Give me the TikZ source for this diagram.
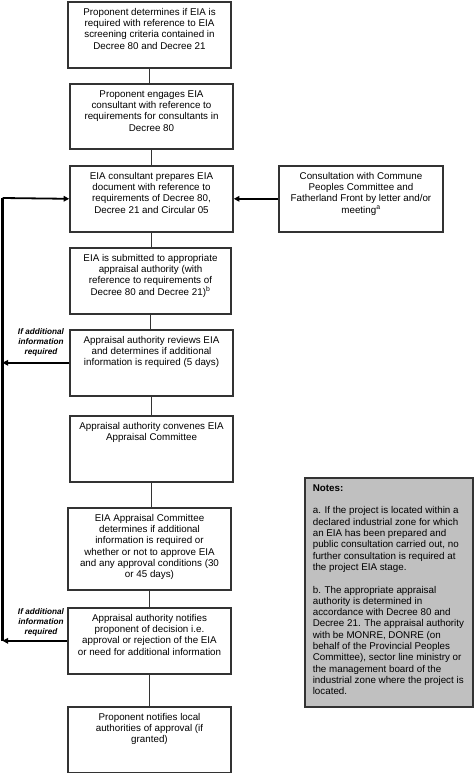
\documentclass[tikz,border=0pt]{standalone}
\usepackage{fontspec}
\setmainfont{Liberation Sans}
\usetikzlibrary{arrows.meta}
\definecolor{bordergray}{HTML}{333333}
\definecolor{notesfill}{HTML}{C0C0C0}
\newcommand{\bxt}[3]{\parbox[c][#2bp][t]{#1bp}{\centering\fontsize{9.8bp}{11.3bp}\selectfont\rule{0pt}{13.5bp}#3\par}}
\tikzset{
  stepbox/.style={draw=bordergray, line width=1.6bp, inner sep=0pt, anchor=north, fill=white},
  link/.style={draw=bordergray, line width=1.6bp},
  arr/.style={draw=black, line width=1.8bp, -{Triangle[length=5.5bp,width=5.5bp]}},
  loopline/.style={draw=black, line width=2bp},
  lbl/.style={font=\fontsize{8.2bp}{10bp}\selectfont\bfseries\itshape, align=center, inner sep=0pt},
}
\begin{document}
\begin{tikzpicture}[x=1bp,y=-1bp]
\useasboundingbox (0,0) rectangle (474,773);
% main column
\node[stepbox] (b1) at (149.5,1) {\bxt{163}{66}{Proponent determines if EIA is\\ required with reference to EIA\\ screening criteria contained in\\ Decree 80 and Decree 21}};
\node[stepbox] (b2) at (151.5,83) {\bxt{163}{65}{Proponent engages EIA\\ consultant with reference to\\ requirements for consultants in\\ Decree 80}};
\node[stepbox] (b3) at (151.5,165) {\bxt{163}{66}{EIA consultant prepares EIA\\ document with reference to\\ requirements of Decree 80,\\ Decree 21 and Circular 05}};
\node[stepbox] (bc) at (361,165) {\bxt{164}{66}{Consultation with Commune\\ Peoples Committee and\\ Fatherland Front by letter and/or\\ meeting\textsuperscript{a}}};
\node[stepbox] (b4) at (150.5,247) {\bxt{161}{66}{EIA is submitted to appropriate\\ appraisal authority (with\\ reference to requirements of\\ Decree 80 and Decree 21)\textsuperscript{b}}};
\node[stepbox] (b5) at (151.5,329) {\bxt{163}{66}{Appraisal authority reviews EIA\\ and determines if additional\\ information is required (5 days)}};
\node[stepbox] (b6) at (151.5,415) {\bxt{163}{66}{Appraisal authority convenes EIA\\ Appraisal Committee}};
\node[stepbox] (b7) at (149.5,507) {\bxt{163}{82}{EIA Appraisal Committee\\ determines if additional\\ information is required or\\ whether or not to approve EIA\\ and any approval conditions (30\\ or 45 days)}};
\node[stepbox] (b8) at (149.5,607) {\bxt{163}{66}{Appraisal authority notifies\\ proponent of decision i.e.\\ approval or rejection of the EIA\\ or need for additional information}};
\node[stepbox] (b9) at (149.5,706) {\bxt{163}{66}{Proponent notifies local\\ authorities of approval (if\\ granted)}};
% notes
\node[draw=bordergray, line width=1.6bp, fill=notesfill, inner sep=0pt, anchor=north west] (notes) at (304,477)
  {\parbox[c][229bp][t]{168bp}{\raggedright\fontsize{9.8bp}{11.3bp}\selectfont\hspace*{8bp}\parbox[t]{158bp}{\raggedright\rule{0pt}{13.5bp}\textbf{Notes:}\\[11.3bp]
  a. If the project is located within a\\ declared industrial zone for which\\ an EIA has been prepared and\\ public consultation carried out, no\\ further consultation is required at\\ the project EIA stage.\\[11.3bp]
  b. The appropriate appraisal\\ authority is determined in\\ accordance with Decree 80 and\\ Decree 21. The appraisal authority\\ with be MONRE, DONRE (on\\ behalf of the Provincial Peoples\\ Committee), sector line ministry or\\ the management board of the\\ industrial zone where the project is\\ located.}}};
% links
\draw[link] (b1.south) -- (b1.south |- b2.north);
\draw[link] (b2.south) -- (b2.south |- b3.north);
\draw[link] (b3.south) -- (b3.south |- b4.north);
\draw[link] (b4.south) -- (b4.south |- b5.north);
\draw[link] (b5.south) -- (b5.south |- b6.north);
\draw[link] (b6.south) -- (b6.south |- b7.north);
\draw[link] (b7.south) -- (b7.south |- b8.north);
\draw[link] (b8.south) -- (b8.south |- b9.north);
% consultation arrow
\draw[arr] (bc.west) -- (b3.east);
% feedback loop
\coordinate (lt) at (2.5,198);
\coordinate (lb) at (2.5,641);
\draw[loopline] (lb) -- (lt);
\draw[arr] (lt) -- (b3.west);
\draw[arr] (b5.west) -- (b5.west -| lt);
\draw[arr] (b8.west) -- (b8.west -| lt);
\node[lbl] (l1) at (41,342) {If additional\\ information\\ required};
\node[lbl] (l2) at (41,622) {If additional\\ information\\ required};
\end{tikzpicture}
\end{document}
